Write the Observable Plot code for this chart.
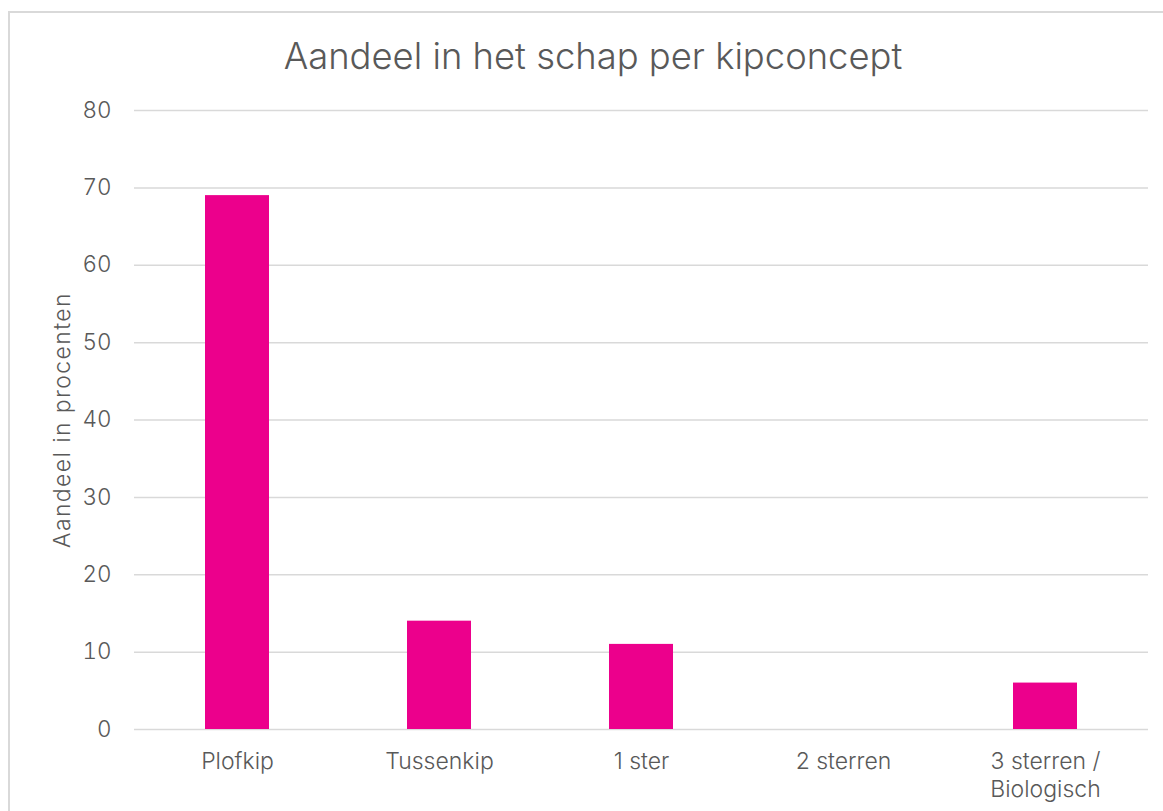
<!DOCTYPE html>
<html>
<head>
<meta charset="utf-8">
<script src="https://cdn.jsdelivr.net/npm/d3@7"></script>
<script src="https://cdn.jsdelivr.net/npm/@observablehq/plot@0.6"></script>
<style>
  html, body { margin: 0; padding: 0; background: #fff; overflow: hidden; }
  body { width: 1163px; height: 811px; position: relative; font-family: Inter, "Noto Sans", sans-serif; }
  #frame { position: absolute; left: 8px; top: 11px; width: 1168px; height: 900px; border: 2px solid #d9d9d9; box-sizing: border-box; }
  #title { position: absolute; left: 8px; top: 36px; width: 1170px; text-align: center; font-size: 36.4px; line-height: 40px; color: #595959; font-weight: 300; }
  #chart { position: absolute; left: 0; top: 0; }
  #chart svg text { font-weight: 300; }
  #chart svg g.ylabel text { letter-spacing: 1.4px; }
</style>
</head>
<body>
<div id="frame"></div>
<div id="title">Aandeel in het schap per kipconcept</div>
<div id="chart"></div>
<script>
const categories = ["Plofkip", "Tussenkip", "1 ster", "2 sterren", "3 sterren /\nBiologisch"];
const values = [69, 14, 11, 0, 6];
const yTicks = [0, 10, 20, 30, 40, 50, 60, 70, 80];
const yLabel = "Aandeel in procenten";

const data = categories.map((c, i) => ({category: c, value: values[i]}));

const chart = Plot.plot({
  width: 1163,
  height: 811,
  marginLeft: 134,
  marginRight: 15,
  marginTop: 110,
  marginBottom: 82,
  style: {fontFamily: "Inter, 'Noto Sans', sans-serif", fontSize: "22px", color: "#595959", background: "transparent"},
  x: {domain: categories, paddingInner: 0.685, paddingOuter: 0.3425},
  y: {domain: [0, 80]},
  marks: [
    Plot.gridY(yTicks, {stroke: "#d9d9d9", strokeOpacity: 1, strokeWidth: 1.5}),
    Plot.barY(data, {x: "category", y: "value", fill: "#EC008C"}),
    Plot.axisY(yTicks, {tickSize: 0, tickPadding: 23, fontSize: 22.5, fill: "#595959", label: null}),
    Plot.text([yLabel], {text: d => d, frameAnchor: "left", dx: -72, rotate: -90, textAnchor: "middle", lineAnchor: "middle", fontSize: 23, fill: "#595959", className: "ylabel"}),
    Plot.axisX({tickSize: 0, tickPadding: 20, fontSize: 23, fill: "#595959", lineHeight: 1.2, label: null})
  ]
});
document.getElementById("chart").appendChild(chart);
</script>
</body>
</html>
